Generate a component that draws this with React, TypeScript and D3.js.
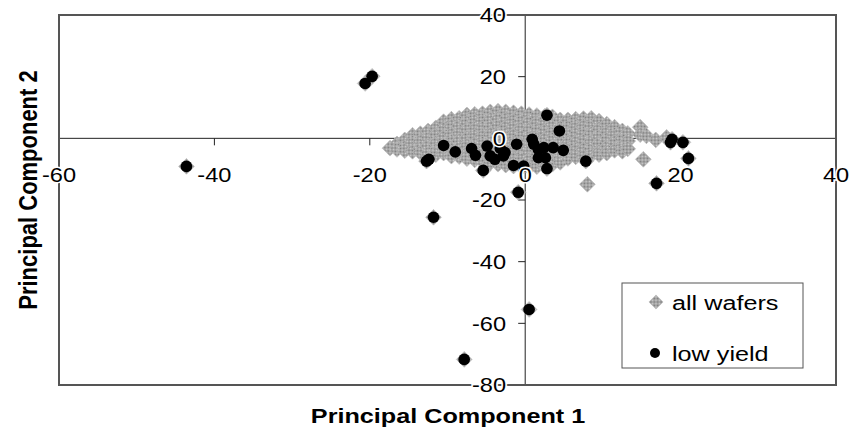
import React from "react";
import * as d3 from "d3";

const xTicks = [-60, -40, -20, 0, 20, 40];
const yTicks = [-80, -60, -40, -20, 0, 20, 40];
const xTitle = "Principal Component 1";
const yTitle = "Principal Component 2";
const seriesNames = ["all wafers", "low yield"];

// all wafers cloud, read column by column: [x, [y values]]
const cloudColumns: [number, number[]][] = [
  [-17.4, [-3.2]],
  [-16.5, [-1.8, -3.6]],
  [-15.5, [-0.5, -3.0, -4.0]],
  [-14.5, [1.0, -1.5, -4.2]],
  [-13.5, [1.5, -1.0, -3.4, -4.6]],
  [-12.5, [2.4, 0.0, -2.5, -4.9]],
  [-11.5, [3.4, 1.0, -1.5, -4.0, -5.3]],
  [-10.5, [5.4, 2.8, 0.3, -2.2, -4.8]],
  [-9.5, [6.2, 3.8, 1.3, -1.2, -3.6, -5.8]],
  [-8.5, [6.5, 4.0, 1.6, -0.8, -3.2, -5.9]],
  [-7.5, [7.6, 5.1, 2.6, 0.1, -2.4, -4.8, -6.6]],
  [-6.5, [7.8, 5.4, 3.0, 0.5, -2.0, -4.4, -7.0]],
  [-5.5, [8.0, 5.6, 3.1, 0.7, -1.8, -4.2, -7.4]],
  [-4.5, [8.6, 6.0, 3.6, 1.2, -1.3, -3.8, -6.2, -8.0]],
  [-3.5, [8.8, 6.3, 3.9, 1.4, -1.0, -3.5, -6.0, -8.4]],
  [-2.5, [8.6, 6.1, 3.6, 1.2, -1.3, -3.8, -6.3, -8.7]],
  [-1.5, [8.3, 5.9, 3.4, 1.0, -1.5, -4.0, -6.4, -9.0]],
  [-0.5, [8.0, 5.6, 3.2, 0.7, -1.8, -4.2, -6.8, -9.2]],
  [0.5, [7.7, 5.3, 2.8, 0.3, -2.2, -4.6, -7.0, -9.4]],
  [1.5, [7.4, 5.0, 2.5, 0.0, -2.5, -5.0, -7.4, -9.2]],
  [2.5, [7.1, 4.7, 2.2, -0.3, -2.8, -5.2, -7.6, -8.9]],
  [3.5, [7.0, 4.5, 2.0, -0.5, -3.0, -5.5, -8.4]],
  [4.5, [6.0, 3.5, 1.0, -1.5, -4.0, -6.5, -7.8]],
  [5.5, [6.0, 3.5, 1.0, -1.5, -4.0, -6.5]],
  [6.5, [6.2, 3.7, 1.2, -1.3, -3.8, -6.0]],
  [7.5, [6.4, 3.9, 1.4, -1.1, -3.6, -5.8]],
  [8.5, [6.5, 4.0, 1.5, -1.0, -3.5, -5.5]],
  [9.5, [5.6, 3.1, 0.6, -1.9, -4.4, -5.3]],
  [10.5, [4.6, 2.1, -0.4, -2.9, -4.8]],
  [11.5, [3.6, 1.1, -1.4, -3.9]],
  [12.5, [2.4, -0.1, -2.6, -4.2]],
  [13.2, [1.6, -0.9, -3.4]],
  [14.8, [3.6, 1.2]],
  [15.6, [0.8]],
  [16.8, [-0.5]],
  [18.2, [0.3]],
  [8.0, [-14.9]],
  [15.2, [-6.8]],
];

// low yield wafers
const lowYield: [number, number][] = [
  [-43.6, -9.1], [-20.6, 17.8], [-19.7, 20.1], [-11.8, -25.6], [-7.85, -71.7],
  [0.5, -55.5], [-0.9, -17.5], [16.9, -14.6], [18.9, -0.3], [18.7, -1.3],
  [20.3, -1.3], [21.0, -6.5],
  [2.8, 7.5], [4.4, 2.4], [-10.5, -2.3], [-9.0, -4.4], [-12.4, -6.8], [-12.7, -7.4],
  [-6.9, -3.3], [-6.4, -5.5], [-5.4, -10.4], [-4.9, -2.5], [-4.5, -5.7], [-3.9, -6.8],
  [-3.2, -3.3], [-2.6, -4.6], [-2.8, -5.7], [-1.5, -8.8], [-1.1, -1.9], [-0.2, -9.0],
  [0.9, -0.3], [1.1, -1.9], [1.7, -3.6], [1.7, -6.3], [2.4, -3.0], [2.6, -6.3],
  [2.8, -9.8], [3.6, -3.0], [4.9, -3.9], [7.8, -7.4],
];

const FONT = "'Liberation Sans', Arial, Helvetica, sans-serif";

export default function App() {
  const W = 850, H = 441;
  const left = 59, right = 836, top = 15, bottom = 385;
  const x = d3.scaleLinear().domain([-60, 40]).range([left, right]);
  const y = d3.scaleLinear().domain([-80, 40]).range([bottom, top]);
  const x0 = x(0), y0 = y(0);

  const cloud: [number, number][] = cloudColumns.flatMap(([cx, ys]) => ys.map((v) => [cx, v] as [number, number]));
  const allWafers = cloud.concat(lowYield);

  const diamond = d3.symbol().type(d3.symbolSquare).size(124)();
  const legendDiamond = d3.symbol().type(d3.symbolSquare).size(100)();

  const sx = 1.18;
  const tickStyle: React.CSSProperties = { fontFamily: FONT, fontSize: 20 };

  return (
    <svg width={W} height={H} style={{ position: "absolute", left: 0, top: 0, background: "#fff" }}>
      <defs>
        <pattern id="dither" width="2" height="2" patternUnits="userSpaceOnUse">
          <rect width="2" height="2" fill="#cfcfcf" />
          <rect width="1" height="1" fill="#7a7a7a" />
          <rect x="1" y="1" width="1" height="1" fill="#7a7a7a" />
        </pattern>
      </defs>
      <rect x={0} y={0} width={W} height={H} fill="#fff" />
      {/* axis lines through origin */}
      <line x1={left} x2={right} y1={y0} y2={y0} stroke="#222" strokeWidth={1} />
      <line x1={x0} x2={x0} y1={top} y2={bottom} stroke="#222" strokeWidth={1} />
      {xTicks.map((t) => (
        <line key={"xt" + t} x1={x(t)} x2={x(t)} y1={y0} y2={y0 + 7} stroke="#222" />
      ))}
      {yTicks.map((t) => (
        <line key={"yt" + t} x1={x0 - 7} x2={x0} y1={y(t)} y2={y(t)} stroke="#222" />
      ))}
      {/* all wafers */}
      {allWafers.map((d, i) => (
        <path
          key={"w" + i}
          d={diamond!}
          transform={`translate(${x(d[0])},${y(d[1])}) rotate(45)`}
          fill="url(#dither)"
          stroke="#b8b8b8"
          strokeWidth={0.6}
        />
      ))}
      {/* low yield */}
      {lowYield.map((d, i) => (
        <circle key={"l" + i} cx={x(d[0])} cy={y(d[1])} r={5.8} fill="#000" />
      ))}
      {/* frame */}
      <rect x={left} y={top} width={right - left} height={bottom - top} fill="none" stroke="#555" strokeWidth={2} />
      {/* tick labels */}
      {xTicks.map((t) => (
        <g key={"xl" + t} transform={`translate(${x(t)},182) scale(${sx},1)`}>
          <text
            textAnchor="middle"
            style={tickStyle}
            stroke="#fff"
            strokeWidth={3}
            paintOrder="stroke"
            fill="#000"
          >
            {t}
          </text>
        </g>
      ))}
      {yTicks.map((t) => (
        <g key={"yl" + t} transform={`translate(506,${y(t)}) scale(${sx},1)`}>
          <text
            textAnchor="end"
            dy="0.36em"
            style={tickStyle}
            stroke="#fff"
            strokeWidth={3}
            paintOrder="stroke"
            fill="#000"
          >
            {t}
          </text>
        </g>
      ))}
      {/* legend */}
      <rect x={622} y={283} width={181} height={85} fill="#fff" stroke="#555" strokeWidth={1} />
      <path d={legendDiamond!} transform="translate(656,302) rotate(45)" fill="url(#dither)" stroke="#b8b8b8" strokeWidth={0.6} />
      <circle cx={655} cy={353} r={5} fill="#000" />
      <g transform={`translate(672,310) scale(1.2,1)`}>
        <text style={{ fontFamily: FONT, fontSize: 21 }} fill="#000">{seriesNames[0]}</text>
      </g>
      <g transform={`translate(672,361) scale(1.2,1)`}>
        <text style={{ fontFamily: FONT, fontSize: 21 }} fill="#000">{seriesNames[1]}</text>
      </g>
      {/* axis titles */}
      <g transform={`translate(448,423) scale(1.2,1)`}>
        <text textAnchor="middle" style={{ fontFamily: FONT, fontSize: 21, fontWeight: "bold" }} fill="#000">
          {xTitle}
        </text>
      </g>
      <g transform={`translate(37,190) scale(1.2,1) rotate(-90)`}>
        <text textAnchor="middle" style={{ fontFamily: FONT, fontSize: 22, fontWeight: "bold" }} fill="#000">
          {yTitle}
        </text>
      </g>
    </svg>
  );
}
